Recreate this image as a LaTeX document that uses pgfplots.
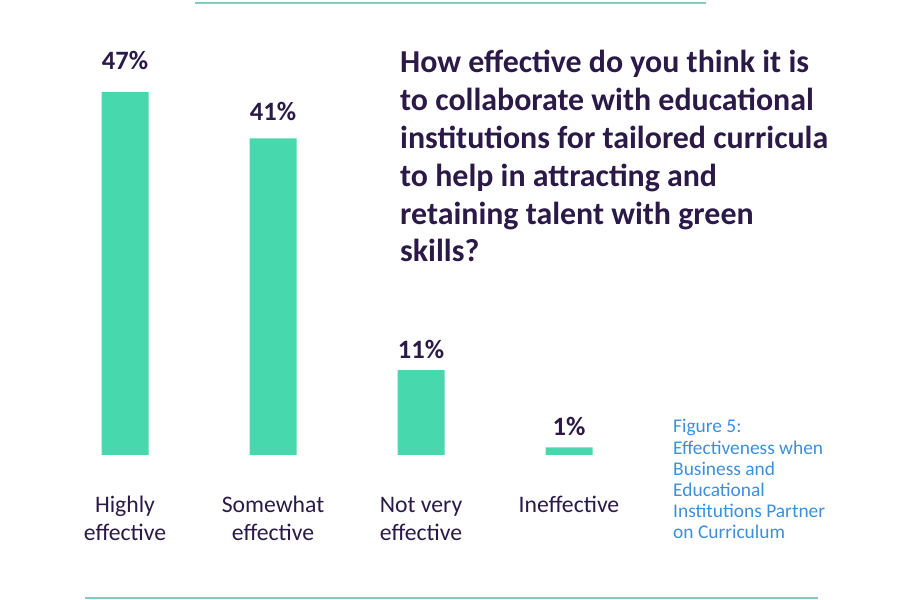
\documentclass[border=0pt]{standalone}
\usepackage{pgfplots}
\pgfplotsset{compat=1.18}
\usepackage{pgfplotstable}
\usepackage{fontspec}
\setmainfont{Carlito}
\definecolor{barc}{HTML}{47D9AD}
\definecolor{dpurple}{HTML}{2B1A48}
\definecolor{capblue}{HTML}{3C8FDC}
\definecolor{linec}{HTML}{86C9C2}
\pgfplotstableread{
x y off
0 47 23
1 41 18
2 11 12
3 1 12
}\datatable
\begin{document}
\begin{tikzpicture}[x=1pt,y=1pt]
\path[use as bounding box] (0,0) rectangle (900,600);
\draw[linec, line width=1.6pt] (195,597) -- (706,597);
\draw[linec, line width=1.6pt] (85,2) -- (818,2);
\begin{axis}[
  at={(51pt,145pt)}, anchor=south west,
  scale only axis, width=592pt, height=386pt,
  xmin=-0.5, xmax=3.5, ymin=0, ymax=50,
  axis lines=none,
  ybar, bar width=47pt,
  xtick={0,1,2,3},
  xticklabels={Highly\\effective, Somewhat\\effective, Not very\\effective, Ineffective},
  clip=false,
]
\addplot[fill=barc, draw=none,
  visualization depends on={\thisrow{off} \as \off},
  nodes near coords={\pgfmathprintnumber[assume math mode=true]{\pgfplotspointmeta}\%},
  every node near coord/.append style={anchor=base, yshift=\off pt, inner sep=0pt,
    font=\fontsize{26.5}{31}\selectfont\bfseries, text=dpurple},
] table[x=x, y=y] {\datatable};
\end{axis}
% category labels
\foreach \cx/\la/\lb in {125/Highly/effective, 273/Somewhat/effective, 421/Not very/effective}{
  \node[anchor=base, inner sep=0pt, text=dpurple, font=\fontsize{23.7}{28}\selectfont] at (\cx,87) {\la};
  \node[anchor=base, inner sep=0pt, text=dpurple, font=\fontsize{23.7}{28}\selectfont] at (\cx,59) {\lb};
}
\node[anchor=base, inner sep=0pt, text=dpurple, font=\fontsize{23.7}{28}\selectfont] at (569,87) {Ineffective};
% title
\begin{scope}[every node/.style={anchor=base west, inner sep=0pt, text=dpurple, font=\fontsize{31.9}{37}\selectfont\bfseries}]
\node at (400,527) {How effective do you think it is};
\node at (400,489.2) {to collaborate with educational};
\node at (400,451.4) {institutions for tailored curricula};
\node at (400,413.6) {to help in attracting and};
\node at (400,375.8) {retaining talent with green};
\node at (400,338) {skills?};
\end{scope}
% caption
\begin{scope}[every node/.style={anchor=base west, inner sep=0pt, text=capblue, font=\fontsize{19.4}{21}\selectfont}]
\node at (673,167) {Figure 5:};
\node at (673,145.8) {Effectiveness when};
\node at (673,124.6) {Business and};
\node at (673,103.4) {Educational};
\node at (673,82.2) {Institutions Partner};
\node at (673,61) {on Curriculum};
\end{scope}
\end{tikzpicture}
\end{document}
